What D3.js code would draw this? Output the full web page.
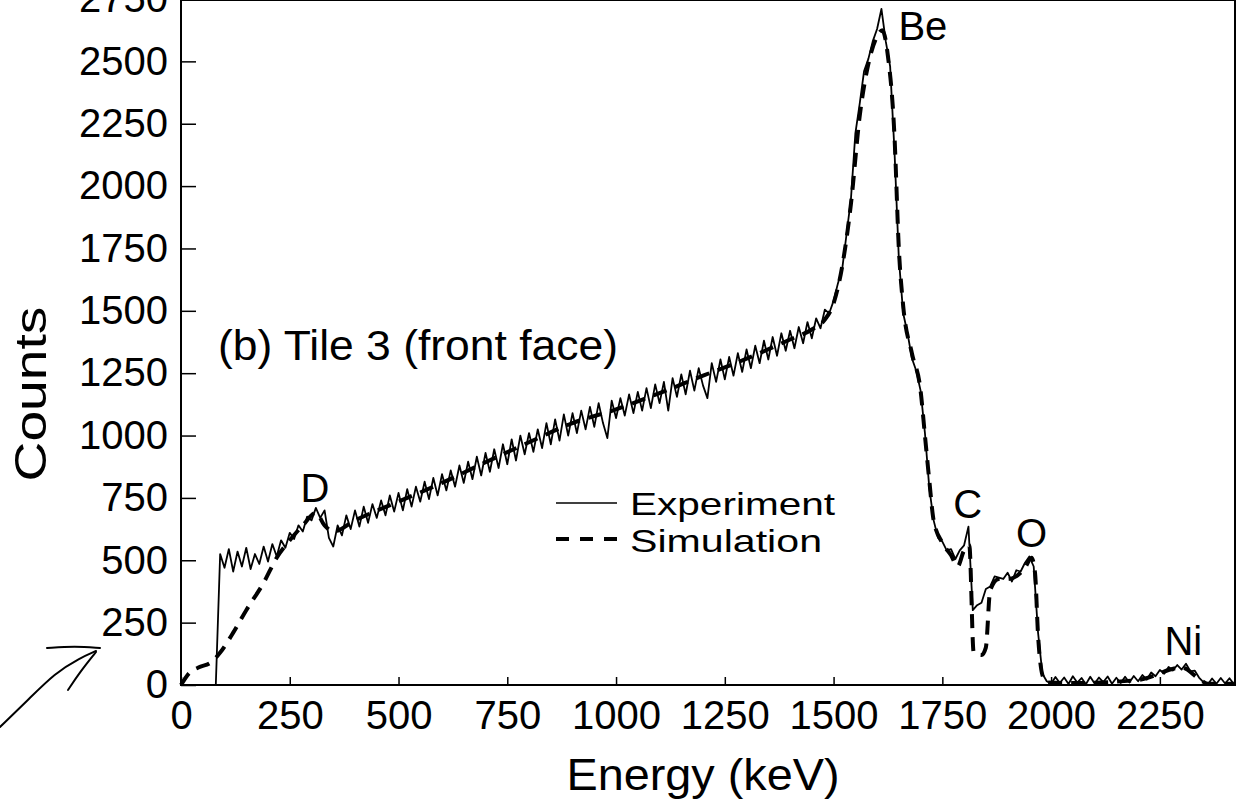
<!DOCTYPE html>
<html>
<head>
<meta charset="utf-8">
<script src="https://cdn.jsdelivr.net/npm/d3@7"></script>
<style>
  body { margin: 0; background: #fff; }
  svg { display: block; font-family: "Liberation Sans", Arial, Helvetica, sans-serif; }
</style>
</head>
<body>
<script>
// Experimental spectrum, one value every 10 keV starting at 0 keV
const expStep = 10;
const expCounts = [
    0, 0, 0, 0, 0, 0, 0, 0, 0, 525,                                   // 0-90
    470, 545, 455, 535, 475, 550, 465, 525, 485, 555,                 // 100-190
    495, 565, 515, 580, 550, 610, 585, 640, 615, 675,                 // 200-290
    660, 710, 670, 700, 590, 555, 640, 600, 680, 625,                 // 300-390
    700, 635, 715, 650, 725, 670, 740, 680, 760, 695,                 // 400-490
    770, 700, 785, 715, 795, 735, 815, 745, 830, 760,                 // 500-590
    845, 780, 860, 795, 880, 810, 895, 825, 915, 840,                 // 600-690
    930, 855, 945, 870, 965, 885, 985, 900, 1000, 925,                // 700-790
    1010, 935, 1025, 950, 1050, 965, 1065, 980, 1085, 1000,           // 800-890
    1090, 1010, 1100, 1025, 1115, 1035, 1130, 1050, 990, 1140,        // 900-990
    1070, 1150, 1080, 1165, 1090, 1175, 1100, 1190, 1110, 1205,       // 1000-1090
    1130, 1215, 1100, 1230, 1155, 1245, 1165, 1260, 1180, 1270,       // 1100-1190
    1200, 1150, 1290, 1215, 1305, 1225, 1315, 1240, 1330, 1255,       // 1200-1290
    1345, 1270, 1360, 1290, 1380, 1305, 1395, 1320, 1410, 1340,       // 1300-1390
    1420, 1350, 1435, 1370, 1455, 1390, 1470, 1430, 1505, 1490,       // 1400-1490
    1540, 1610, 1670, 1810, 1950, 2210, 2330, 2460, 2510, 2580,       // 1500-1590
    2630, 2710, 2580, 2480, 2140, 1710, 1490, 1410, 1310, 1260,       // 1600-1690
    1180, 1010, 790, 660, 590, 575, 540, 545, 505, 540,               // 1700-1790
    560, 635, 300, 320, 330, 385, 395, 435, 430, 425,                 // 1800-1890
    450, 415, 460, 455, 490, 515, 475, 210, 45, 15,                   // 1900-1990
    5, 32, 8, 30, 4, 35, 10, 28, 3, 33,                               // 2000-2090
    6, 30, 12, 34, 5, 29, 8, 33, 10, 36,                              // 2100-2190
    15, 40, 22, 50, 35, 60, 45, 72, 58, 80,                           // 2200-2290
    62, 85, 55, 58, 30, 12, 2, 26, 5, 28,                             // 2300-2390
    6, 27, 4                                                          // 2400-2420
];

// Simulated spectrum (smooth)
const simEnergy = [0, 20, 40, 70, 90, 120, 150, 190, 220, 250, 280, 310, 330, 350, 400,
    500, 600, 700, 800, 900, 1000, 1100, 1200, 1300, 1400, 1450, 1480, 1500, 1520, 1540,
    1560, 1580, 1600, 1612, 1625, 1640, 1650, 1660, 1680, 1700, 1710, 1720, 1730, 1750,
    1770, 1785, 1800, 1812, 1822, 1840, 1850, 1860, 1880, 1900, 1940, 1955, 1963, 1970,
    1980, 1990, 2050, 2200, 2300, 2340, 2360, 2420];
const simCounts = [0, 50, 70, 92, 130, 210, 300, 410, 510, 580, 640, 690, 640, 615, 660,
    735, 810, 893, 973, 1050, 1105, 1170, 1240, 1308, 1385, 1425, 1465, 1530, 1680, 1930,
    2280, 2490, 2600, 2625, 2520, 2200, 1750, 1520, 1330, 1180, 1000, 820, 660, 570,
    520, 475, 540, 560, 130, 120, 150, 380, 425, 425, 470, 510, 450, 200,
    40, 10, 8, 20, 70, 25, 5, 5];

// Peak labels
const peakNames = ["Be", "D", "C", "O", "Ni"];
const peakEnergy = [1649, 308, 1808, 1955, 2304];
const peakCounts = [2584, 733, 669, 553, 120];

const xTicks = [0, 250, 500, 750, 1000, 1250, 1500, 1750, 2000, 2250];
const yTicks = [0, 250, 500, 750, 1000, 1250, 1500, 1750, 2000, 2250, 2500, 2750];

const width = 1238, height = 804;
const margin = { top: 0, right: 2, bottom: 119, left: 181 };

const svg = d3.select("body").append("svg")
    .attr("width", width)
    .attr("height", height);

const x = d3.scaleLinear().domain([0, 2425]).range([margin.left, width - margin.right]);
const y = d3.scaleLinear().domain([0, 2750]).range([height - margin.bottom, -1]);

const fontSize = 40;

// axes with inward ticks
const gx = svg.append("g")
    .attr("transform", `translate(0,${y(0)})`)
    .call(d3.axisBottom(x).tickValues(xTicks).tickFormat(d3.format("d"))
        .tickSizeInner(-8).tickSizeOuter(0).tickPadding(16));
const gy = svg.append("g")
    .attr("transform", `translate(${x(0)},0)`)
    .call(d3.axisLeft(y).tickValues(yTicks).tickFormat(d3.format("d"))
        .tickSizeInner(-15).tickSizeOuter(0).tickPadding(13));

[gx, gy].forEach(g => {
    g.select(".domain").remove();
    g.selectAll("line").attr("stroke", "#000").attr("stroke-width", 1.5);
    g.selectAll("text")
        .attr("fill", "#000")
        .style("font-size", fontSize + "px")
        .style("font-family", "'Liberation Sans', Arial, Helvetica, sans-serif");
});

// frame
svg.append("rect")
    .attr("x", x(0))
    .attr("y", y(2750) + 1)
    .attr("width", x(2425) - x(0) - 1)
    .attr("height", y(0) - y(2750) - 1)
    .attr("fill", "none")
    .attr("stroke", "#000")
    .attr("stroke-width", 2);

// experiment line
const expLine = d3.line()
    .x((d, i) => x(i * expStep))
    .y(d => y(d));

svg.append("path")
    .datum(expCounts)
    .attr("d", expLine)
    .attr("fill", "none")
    .attr("stroke", "#000")
    .attr("stroke-width", 1.8)
    .attr("stroke-linejoin", "round");

// simulation line
const simLine = d3.line()
    .x(d => x(d[0]))
    .y(d => y(d[1]))
    .curve(d3.curveMonotoneX);

svg.append("path")
    .datum(simEnergy.map((e, i) => [e, simCounts[i]]))
    .attr("d", simLine)
    .attr("fill", "none")
    .attr("stroke", "#000")
    .attr("stroke-width", 4)
    .attr("stroke-dasharray", "14,9");

// peak labels
svg.selectAll(".peak")
    .data(peakNames)
    .enter().append("text")
    .attr("class", "peak")
    .attr("x", (d, i) => x(peakEnergy[i]))
    .attr("y", (d, i) => y(peakCounts[i]))
    .attr("text-anchor", d => d === "Be" ? "start" : "middle")
    .style("font-size", fontSize + "px")
    .text(d => d);

// panel title
svg.append("text")
    .attr("x", x(85))
    .attr("y", y(1302))
    .attr("textLength", 400)
    .attr("lengthAdjust", "spacingAndGlyphs")
    .style("font-size", "42px")
    .text("(b) Tile 3 (front face)");

// legend
const legend = svg.append("g");
legend.append("line")
    .attr("x1", 556).attr("x2", 617).attr("y1", 503).attr("y2", 503)
    .attr("stroke", "#000").attr("stroke-width", 1.6);
legend.append("text")
    .attr("x", 630).attr("y", 515)
    .attr("textLength", 205)
    .attr("lengthAdjust", "spacingAndGlyphs")
    .style("font-size", "32px")
    .text("Experiment");
legend.append("line")
    .attr("x1", 556).attr("x2", 617).attr("y1", 539).attr("y2", 539)
    .attr("stroke", "#000").attr("stroke-width", 4)
    .attr("stroke-dasharray", "13,11");
legend.append("text")
    .attr("x", 630).attr("y", 552)
    .attr("textLength", 192)
    .attr("lengthAdjust", "spacingAndGlyphs")
    .style("font-size", "32px")
    .text("Simulation");

// axis titles
svg.append("text")
    .attr("transform", `translate(46,${394}) rotate(-90)`)
    .attr("text-anchor", "middle")
    .attr("textLength", 175)
    .attr("lengthAdjust", "spacingAndGlyphs")
    .style("font-size", "44px")
    .text("Counts");
svg.append("text")
    .attr("x", 703)
    .attr("y", 790)
    .attr("text-anchor", "middle")
    .attr("textLength", 273)
    .attr("lengthAdjust", "spacingAndGlyphs")
    .style("font-size", "44px")
    .text("Energy (keV)");

// hand-drawn arrow in the margin
const pen = svg.append("g").attr("fill", "none").attr("stroke", "#000")
    .attr("stroke-width", 2).attr("stroke-linecap", "round");
pen.append("path").attr("d", d3.line().curve(d3.curveBasis)([[0, 727], [28, 700], [55, 673], [80, 658], [96, 651]]));
pen.append("path").attr("d", d3.line().curve(d3.curveBasis)([[47, 648], [75, 646], [100, 648]]));
pen.append("path").attr("d", d3.line().curve(d3.curveBasis)([[68, 690], [80, 672], [96, 652]]));
</script>
</body>
</html>
